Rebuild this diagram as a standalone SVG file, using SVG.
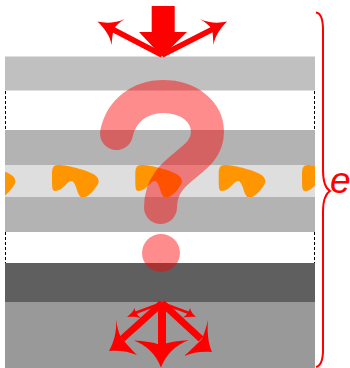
<svg xmlns="http://www.w3.org/2000/svg" width="350" height="368" viewBox="0 0 350 368">
<style>
.dash{stroke:#000;stroke-width:1;stroke-dasharray:3 2;fill:none}
.red{fill:#f00;stroke:none}
.shaft{stroke:#f00;fill:none}
.q{fill:none;stroke:#f00;stroke-opacity:.45;stroke-width:33;stroke-linecap:round}
</style>
<defs>
<clipPath id="c"><rect x="5" y="165" width="310" height="32"/></clipPath>
<path id="b" d="M52 175C52 168 53 165 58 165C68 165 91 171 96 176C100 180 99 183 96 187C92 193 87 197.500 83 197.500C79 197.500 78 193 76 187C74 182 73 181 71 181C67 181 63 191 55 191C52 191 52 188 52 175Z" fill="#ff9500"/>
</defs>
<g id="layers">
<rect x="5" y="56.500" width="310" height="34" fill="#c0c0c0"/>
<rect x="5" y="130" width="310" height="35" fill="#b3b3b3"/>
<rect x="5" y="165" width="310" height="32" fill="#dedede"/>
<rect x="5" y="197" width="310" height="35" fill="#b3b3b3"/>
<rect x="5" y="263" width="310" height="39" fill="#5f5f5f"/>
<rect x="5" y="302" width="310" height="66" fill="#999"/>
<path class="dash" d="M5.500 91V130M314.500 91V130M5.500 232V263M314.500 232V263"/>
</g>
<g id="molecules" clip-path="url(#c)">
<use href="#b" x="-83.300"/>
<use href="#b"/>
<use href="#b" x="83.300"/>
<use href="#b" x="166.700"/>
<use href="#b" x="250"/>
</g>
<g id="question">
<path class="q" d="M116.500 133.500C121 111 140 96.500 163 96.500C189 96.500 207.500 112 207.500 132C207.500 165 160.500 165 160.500 207.500"/>
<circle cx="161" cy="253" r="19" fill="#f00" fill-opacity=".45"/>
</g>
<g id="connectors">
<path class="red" d="M151.700 6H174.700V32H187L162 56.500L139 32H151.700Z"/>
<path class="shaft" stroke-width="5.500" d="M162 55L112 29M162 55L213 29"/>
<path class="red" d="M97.500 21.500C106 23.500 116 23 124.700 19C120 22 116 25 114 29C112.500 33 112 39 111.700 45C110 36 105 29 97.500 21.500Z"/>
<path class="red" d="M227 21.500C218 23.500 209 23 200 19C205 22 209 25 212 29C213 33 213 39 213.500 45C215 36 220 29 227 21.500Z"/>
<path class="shaft" stroke-width="2.500" d="M162 303L135 313M162 303L189 313"/>
<path class="red" d="M127 317C130 314 133 312 134.700 308C135 312 137 315 140.700 318C136 316.500 131 316.500 127 317Z"/>
<path class="red" d="M196 317C193 314 191 312 190 308C189 312 187 315 183 317.500C187 316.500 192 316.500 196 317Z"/>
<path class="shaft" stroke-width="7" d="M162 303L122 339M162 303L201 339"/>
<path class="red" d="M109 351C114 342 117 331 116 319C117 327 119 333 121 338C125 342 131 349 137 355C128 351 118 350 109 351Z"/>
<path class="red" d="M212 352C208 343 207 331 208 320C206 328 204 334 202 339C198 343 191 350 184 356C193 352 203 351 212 352Z"/>
<path class="shaft" stroke-width="8" d="M162 303V348"/>
<path class="red" d="M161 367.500C156 354 146 345 134 340.500C144 341 154 342 161 345.500C168 342 178 341 189 340C176 345 166 354 161 367.500Z"/>
</g>
<g id="brace">
<path d="M316 12.500C320 13 323 18 323 30V170C323 181 325 188 330 191C325 194 323 201 323 212V350C323 361 320 366 316 367" fill="none" stroke="#f00" stroke-width="2"/>
<text x="330" y="193" font-family="Liberation Sans, sans-serif" font-style="italic" font-size="37" fill="#f00">e</text>
</g>
</svg>
